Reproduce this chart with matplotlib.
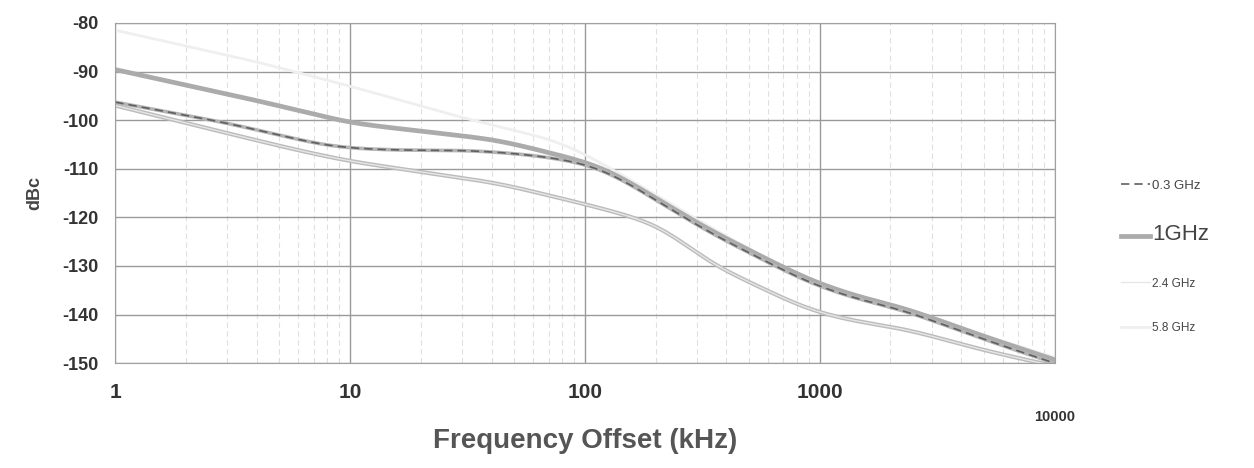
import numpy as np
import matplotlib
matplotlib.use("Agg")
import matplotlib.pyplot as plt
from matplotlib.ticker import FixedLocator, NullFormatter

plt.rcParams["font.family"] = ["Liberation Sans", "DejaVu Sans"]

# phase noise curves (offset in kHz, level in dBc)
f_1g = [1, 4.3, 10, 43, 115, 127, 340, 906, 1480, 2255, 5130, 10000]
db_1g = [-89.6, -96.3, -100.6, -104.1, -109.3, -110.3, -122.7, -133.0, -136.5, -138.5, -144.7, -149.3]

f_03g = [1, 3, 7.7, 10, 16.3, 31.4, 43, 60, 95, 127, 340, 906, 1480, 2255, 5130, 10000]
db_03g = [-96.3, -100.6, -105.2, -105.8, -106.2, -106.2, -106.6, -107.2, -108.6, -110.6, -123.2, -133.6, -137.0, -139.0, -145.3, -150.0]

f_24g = [1, 3, 6.1, 10, 16.3, 43, 115, 208, 340, 906, 1480, 2255, 5130, 10000]
db_24g = [-97.0, -102.7, -106.3, -108.5, -110.0, -113.0, -118.0, -121.5, -129.5, -139.2, -141.6, -142.8, -147.5, -150.6]

f_58g = [1, 4, 10, 30, 80, 130, 340, 906, 2255, 10000]
db_58g = [-81.5, -88.0, -93.0, -99.5, -104.5, -110.0, -122.0, -133.3, -139.0, -148.8]

x_ticks = [1, 10, 100, 1000, 10000]
y_ticks = [-80, -90, -100, -110, -120, -130, -140, -150]


def smooth(f, d, n=400, sig=9):
    # interpolate in log-f, then a light gaussian pass so the knots don't show
    lf = np.log10(f)
    xs = np.linspace(lf[0], lf[-1], n)
    ys = np.interp(xs, lf, d)
    k = np.exp(-0.5 * (np.arange(-3 * sig, 3 * sig + 1) / sig) ** 2); k /= k.sum()
    pad = 3 * sig
    left = ys[0] - (ys[1] - ys[0]) * np.arange(pad, 0, -1)
    right = ys[-1] + (ys[-1] - ys[-2]) * np.arange(1, pad + 1)
    ys = np.convolve(np.r_[left, ys, right], k, mode="same")[pad:-pad]
    return 10 ** xs, ys


fig = plt.figure(figsize=(12.54, 4.68), dpi=100)
ax = fig.add_axes([0.092, 0.224, 0.749, 0.727])
ax.set_xscale("log")
ax.set_xlim(1, 10000)
ax.set_ylim(-150, -80)

# grid as on the scan
ax.xaxis.set_minor_locator(FixedLocator([m * 10 ** k for k in range(4) for m in range(2, 10)]))
ax.xaxis.set_minor_formatter(NullFormatter())
ax.grid(which="major", axis="both", color="#9a9a9a", lw=1.0)
ax.grid(which="minor", axis="x", color="#e0e0e0", lw=0.8, ls=(0, (5, 3)))
for s in ax.spines.values():
    s.set_color("#a0a0a0")
ax.tick_params(which="both", length=0)

x, y = smooth(f_58g, db_58g)
l58, = ax.plot(x, y, color="#efefef", lw=2.0, label="5.8 GHz")
x, y = smooth(f_24g, db_24g)
ax.plot(x, y, color="#bcbcbc", lw=3.0)
l24, = ax.plot(x, y, color="#e6e6e6", lw=1.0, label="2.4 GHz")
x, y = smooth(f_1g, db_1g)
l1, = ax.plot(x, y, color="#ababab", lw=3.4, label="1GHz")
x, y = smooth(f_03g, db_03g)
ax.plot(x, y, color="#b4b4b4", lw=2.6)
l03, = ax.plot(x, y, color="#606060", lw=1.2, ls=(0, (5, 3)), label="0.3 GHz")

ax.set_xticks(x_ticks)
ax.set_xticklabels(["1", "10", "100", "1000", "10000"], fontsize=15, fontweight="bold", color="#333333")
ax.set_yticks(y_ticks)
ax.set_yticklabels([str(v) for v in y_ticks], fontsize=13, fontweight="bold", color="#333333")
ax.tick_params(axis="x", pad=14)
ax.tick_params(axis="y", pad=12)
# the last x label sits lower and smaller on the original
last_tick = ax.xaxis.get_major_ticks()[-1]
last_tick.set_pad(34)
last_tick.label1.set_fontsize(10.5)

ax.set_xlabel("Frequency Offset (kHz)", fontsize=20, fontweight="bold", color="#555555")
ax.xaxis.set_label_coords(0.5, -0.19)
ax.set_ylabel("dBc", fontsize=13, fontweight="bold", color="#444444", labelpad=14)

leg = fig.legend(handles=[l03, l1, l24, l58], loc="upper left", bbox_to_anchor=(0.885, 0.64),
                 frameon=False, handlelength=2.3, handletextpad=0.2, labelspacing=2.6, fontsize=9)
for t, fs in zip(leg.get_texts(), [9.5, 16, 8.5, 8.5]):
    t.set_fontsize(fs)
    t.set_color("#444444")

fig.savefig("out.png", dpi=100)
